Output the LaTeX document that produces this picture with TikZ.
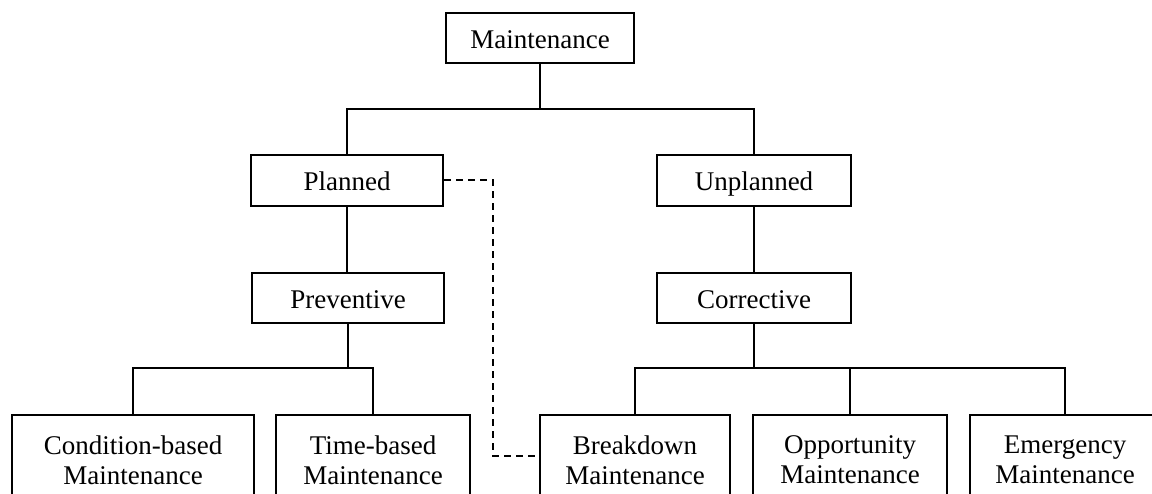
\documentclass[tikz,border=0pt]{standalone}
\usepackage{fontspec}
\setmainfont{Liberation Serif}
\begin{document}
\begin{tikzpicture}[x=1pt,y=-1pt,
  box/.style={draw,line width=2pt,inner sep=0pt,align=center,
    font=\fontsize{27}{30}\selectfont},
  single/.style={box,text height=21pt,text depth=0pt},
  link/.style={line width=2pt},
  dlink/.style={line width=2pt,dash pattern=on 7pt off 5pt}]
\useasboundingbox (0,0) rectangle (1152,493);
\clip (0,0) rectangle (1152,493);
\fill[white] (0,0) rectangle (1152,493);

% tree of maintenance types
\node[single,minimum width=188,minimum height=50] (main) at (540,38) {Maintenance};
\node[single,minimum width=192,minimum height=51] (planned) at (347,180) {Planned};
\node[single,minimum width=194,minimum height=51] (unplanned) at (754,180) {Unplanned};
\node[single,minimum width=192,minimum height=50] (prev) at (348,298) {Preventive};
\node[single,minimum width=194,minimum height=50] (corr) at (754,298) {Corrective};

\node[box,minimum width=242,minimum height=90] (cond) at (133,460) {Condition-based\\Maintenance};
\node[box,minimum width=194,minimum height=90] (time) at (373,460) {Time-based\\Maintenance};
\node[box,minimum width=190,minimum height=90] (brk) at (635,460) {Breakdown\\Maintenance};
\node[box,minimum width=194,minimum height=90] (opp) at (850,460) {Opportunity\\Maintenance};
\node[box,minimum width=190,minimum height=90] (emg) at (1065,460) {Emergency\\Maintenance};

% branch points
\coordinate (b1) at (540,109);
\coordinate (b2) at (348,368);
\coordinate (b3) at (754,368);
\coordinate (dc) at (493,456);

% connectors
\draw[link] (main.south) -- (b1);
\draw[link] (planned.north) |- (b1) -| (unplanned.north);
\draw[link] (planned.south) -- (planned.south |- prev.north);
\draw[link] (unplanned.south) -- (unplanned.south |- corr.north);

\draw[link] (prev.south) -- (b2);
\draw[link] (cond.north) |- (b2) -| (time.north);

\draw[link] (corr.south) -- (b3);
\draw[link] (brk.north) |- (b3) -| (emg.north);
\draw[link] (opp.north) -- (opp.north |- b3);

\draw[dlink] (planned.east) -| (dc) -- (dc -| brk.west);
\end{tikzpicture}
\end{document}
